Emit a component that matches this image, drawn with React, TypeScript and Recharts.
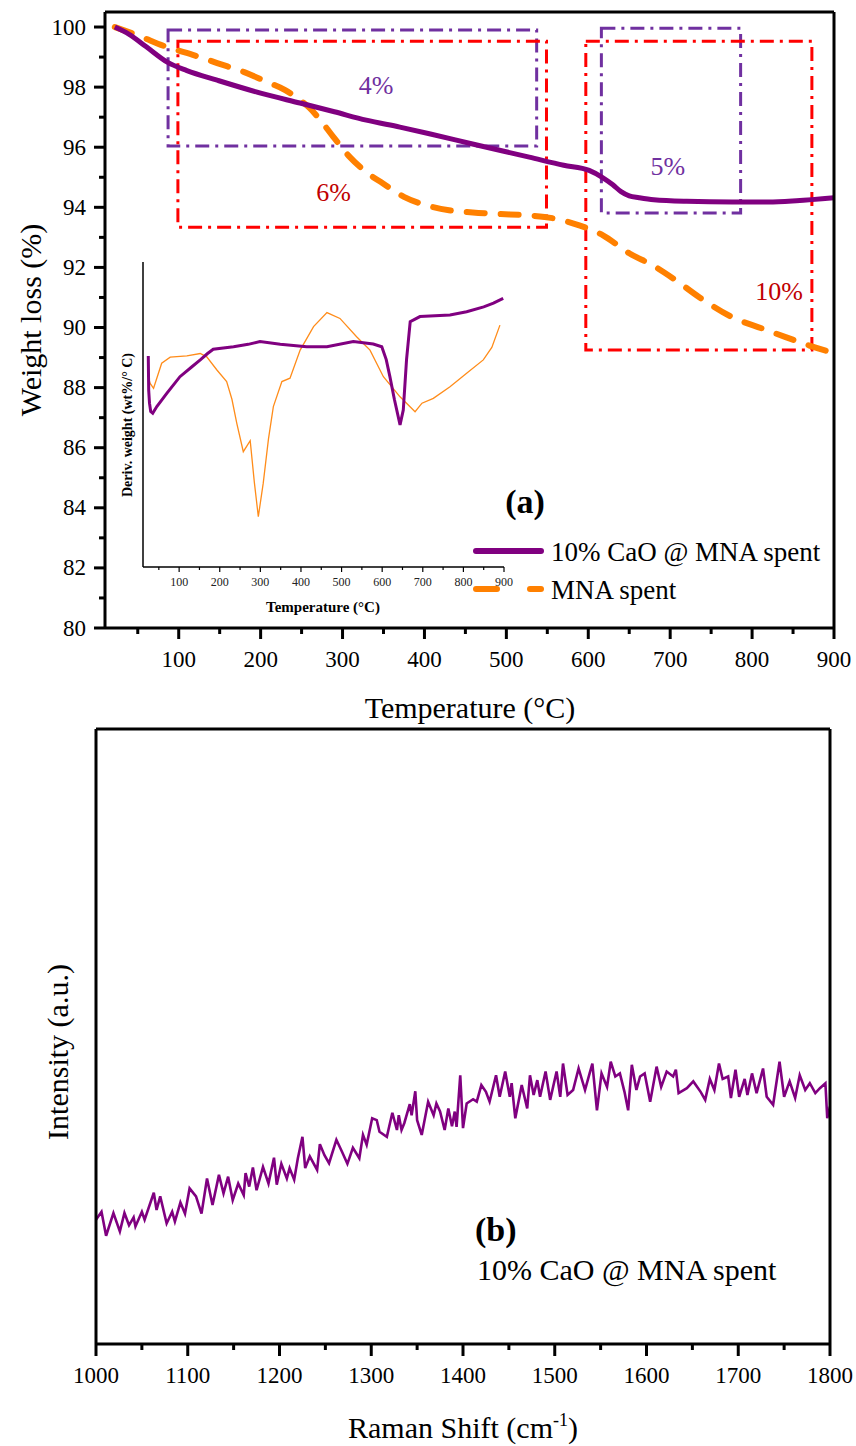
import React from "react";
import { LineChart, Line, XAxis, YAxis, ReferenceArea, ReferenceDot } from "recharts";

const FONT = "'Liberation Serif', 'Times New Roman', serif";
const PURPLE = "#800080";
const ORANGE = "#FF8000";
const BOX_PURPLE = "#7030A0";
const BOX_RED = "#FF0000";
const LABEL_RED = "#C00000";

// (a) TGA weight loss
const tgaTempCaO = [22, 40, 60, 86, 110, 147, 200, 248, 290, 329, 370, 406, 460, 528, 570, 601, 617, 630, 640, 650, 662, 680, 720, 776, 820, 854, 900];
const tgaWeightCaO = [100, 99.75, 99.35, 98.83, 98.55, 98.23, 97.8, 97.47, 97.18, 96.9, 96.67, 96.45, 96.1, 95.67, 95.4, 95.23, 95.0, 94.75, 94.52, 94.38, 94.32, 94.25, 94.2, 94.18, 94.18, 94.22, 94.32];
const tgaTempMna = [22, 50, 86, 120, 147, 180, 208, 230, 248, 260, 270, 290, 309, 330, 349, 375, 402, 430, 459, 490, 528, 560, 589, 618, 650, 680, 707, 736, 776, 813, 841, 870, 900];
const tgaWeightMna = [100, 99.72, 99.33, 99.05, 98.8, 98.5, 98.17, 97.9, 97.57, 97.3, 97.0, 96.3, 95.67, 95.15, 94.8, 94.35, 94.07, 93.9, 93.83, 93.78, 93.73, 93.62, 93.4, 93.07, 92.47, 92.05, 91.57, 91.0, 90.34, 89.96, 89.68, 89.4, 89.15];
const tgaXTicks = [50, 100, 150, 200, 250, 300, 350, 400, 450, 500, 550, 600, 650, 700, 750, 800, 850, 900];
const tgaYTicks = [80, 81, 82, 83, 84, 85, 86, 87, 88, 89, 90, 91, 92, 93, 94, 95, 96, 97, 98, 99, 100];

// dash-dot boxes and their loss labels
const lossBoxes = [
  { x1: 87, x2: 537, y1: 96.04, y2: 99.9, color: BOX_PURPLE },
  { x1: 99, x2: 549, y1: 93.34, y2: 99.53, color: BOX_RED },
  { x1: 616, x2: 786, y1: 93.81, y2: 99.96, color: BOX_PURPLE },
  { x1: 597, x2: 873, y1: 89.25, y2: 99.53, color: BOX_RED },
];
const lossLabels = [
  { t: 341, w: 98.07, text: "4%", color: BOX_PURPLE },
  { t: 289, w: 94.48, text: "6%", color: LABEL_RED },
  { t: 697, w: 95.37, text: "5%", color: BOX_PURPLE },
  { t: 833, w: 91.2, text: "10%", color: LABEL_RED },
];

// inset DTG (arbitrary units)
const dtgTempCaO = [24, 25, 27, 30, 35, 45, 70, 102, 130, 152, 170, 184, 234, 270, 299, 349, 414, 464, 529, 578, 599, 610, 619, 630, 644, 652, 660, 669, 693, 767, 808, 850, 874, 898];
const dtgValCaO = [69.2, 58, 53.7, 51, 50.4, 52.6, 57.0, 62.4, 65.5, 67.9, 70, 71.4, 72.2, 73, 73.9, 73.0, 72.2, 72.2, 73.9, 73.1, 72.2, 68, 62.4, 55, 46.6, 51.5, 68, 80.4, 82.1, 82.6, 83.7, 85.3, 86.5, 88.1];
const dtgTempMna = [24, 28.6, 37, 57, 78, 119, 152, 168, 193, 217, 230, 242, 258, 275, 285, 295, 307, 320, 332, 353, 373, 398, 431, 464, 496, 537, 570, 603, 644, 681, 698, 726, 767, 808, 849, 870, 890];
const dtgValMna = [62.4, 60.2, 58.6, 66.8, 68.8, 69.2, 70.0, 68.9, 64.6, 60.8, 55, 47.1, 37.8, 41.4, 28, 16.5, 27.4, 42, 52.6, 60.8, 61.9, 71.1, 78.8, 83.4, 81.5, 75.5, 71.1, 62.4, 55.8, 50.9, 53.7, 55.3, 59.1, 63.5, 67.9, 72, 79.3];
const dtgXTicks = tgaXTicks;

// (b) Raman
const ramanShift = [
  1000, 1006, 1011, 1019, 1026, 1031, 1036, 1041, 1043, 1050, 1053, 1063, 1066, 1070, 1077, 1083, 1086, 1092, 1097, 1102,
  1109, 1115, 1121, 1127, 1134, 1139, 1144, 1149, 1155, 1161, 1163, 1167, 1171, 1175, 1182, 1188, 1194, 1197, 1202, 1208,
  1211, 1216, 1220, 1225, 1228, 1233, 1241, 1244, 1249, 1254, 1262, 1268, 1274, 1280, 1287, 1291, 1295, 1301, 1306, 1309,
  1317, 1323, 1328, 1330, 1333, 1336, 1342, 1344, 1348, 1350, 1355, 1362, 1368, 1371, 1375, 1380, 1384, 1388, 1391, 1393,
  1397, 1400, 1404, 1411, 1415, 1420, 1425, 1429, 1436, 1440, 1446, 1451, 1453, 1457, 1464, 1470, 1473, 1477, 1481, 1484,
  1490, 1495, 1502, 1506, 1509, 1514, 1520, 1526, 1533, 1538, 1541, 1546, 1551, 1557, 1561, 1566, 1571, 1576, 1580, 1584,
  1589, 1593, 1598, 1604, 1611, 1616, 1622, 1629, 1632, 1635, 1644, 1651, 1659, 1664, 1669, 1674, 1679, 1683, 1689, 1692,
  1697, 1701, 1707, 1710, 1715, 1720, 1727, 1731, 1738, 1745, 1750, 1756, 1762, 1767, 1773, 1778, 1784, 1789, 1795, 1797, 1800,
];
const ramanIntensity = [
  20.2, 21.5, 17.6, 21.3, 18.3, 21.3, 19.3, 20.6, 19.1, 21.5, 20.2, 24.6, 21.8, 24.0, 19.6, 21.5, 19.9, 23.0, 21.2, 25.3,
  24.0, 21.2, 26.9, 22.6, 27.5, 24.5, 27.2, 23.4, 26.1, 24.2, 27.8, 25.6, 28.7, 25.0, 28.8, 26.1, 30.3, 25.9, 29.3, 26.9,
  28.6, 26.7, 30.2, 33.7, 28.6, 30.5, 28.3, 32.5, 30.7, 29.4, 33.2, 31.3, 29.3, 31.9, 30.2, 34.0, 32.4, 36.7, 36.4, 34.5,
  33.7, 37.6, 34.8, 37.2, 34.8, 35.9, 39.0, 37.2, 41.1, 36.4, 34.0, 39.4, 37.2, 39.1, 37.8, 34.8, 38.3, 35.4, 37.8, 35.3,
  43.7, 35.1, 39.1, 39.8, 39.4, 42.1, 41.0, 39.4, 43.7, 40.2, 44.3, 40.2, 42.4, 36.7, 42.1, 38.3, 43.7, 40.5, 42.9, 40.2,
  44.3, 39.7, 44.3, 40.2, 45.6, 40.5, 41.3, 44.8, 41.3, 44.0, 45.6, 38.0, 44.0, 41.8, 45.9, 43.5, 44.0, 41.0, 38.0, 45.4,
  41.3, 43.5, 44.0, 39.4, 45.1, 41.8, 44.3, 43.5, 44.6, 40.8, 41.6, 42.7, 41.0, 39.7, 43.1, 41.3, 45.6, 43.1, 43.5, 40.0,
  44.6, 40.2, 43.1, 40.5, 44.0, 40.8, 44.8, 40.2, 38.9, 45.9, 40.2, 42.7, 40.0, 43.7, 41.3, 42.4, 40.8, 41.6, 42.4, 36.7, 38.6,
];
const ramanTicks = [1000, 1050, 1100, 1150, 1200, 1250, 1300, 1350, 1400, 1450, 1500, 1550, 1600, 1650, 1700, 1750, 1800];

const zip = (xs: number[], ys: number[]) => xs.map((x, i) => ({ x, y: ys[i] }));

const caoTga = zip(tgaTempCaO, tgaWeightCaO);
const mnaTga = zip(tgaTempMna, tgaWeightMna);
const caoDtg = zip(dtgTempCaO, dtgValCaO);
const mnaDtg = zip(dtgTempMna, dtgValMna);
const raman = zip(ramanShift, ramanIntensity);

const axisStyle = { stroke: "#000", strokeWidth: 3 };

// ticks drawn by hand so that minor ticks are shorter and unlabelled
function bottomTick(step: number, majorLen: number, minorLen: number, sw: number, size: number, offset: number, color: string) {
  return (props: any) => {
    const { x, y, payload } = props;
    const v = payload.value;
    const major = v % step === 0;
    return (
      <g>
        <line x1={x} x2={x} y1={y} y2={y + (major ? majorLen : minorLen)} stroke="#000" strokeWidth={sw} />
        {major && (
          <text x={x} y={y + offset} textAnchor="middle" fontFamily={FONT} fontSize={size} fill={color}>
            {v}
          </text>
        )}
      </g>
    );
  };
}

function leftTick(step: number, majorLen: number, minorLen: number, sw: number, size: number, gap: number) {
  return (props: any) => {
    const { x, y, payload } = props;
    const v = payload.value;
    const major = v % step === 0;
    return (
      <g>
        <line x1={x - (major ? majorLen : minorLen)} x2={x} y1={y} y2={y} stroke="#000" strokeWidth={sw} />
        {major && (
          <text x={x - majorLen - gap} y={y} textAnchor="end" dominantBaseline="central"
            fontFamily={FONT} fontSize={size} fill="#000">
            {v}
          </text>
        )}
      </g>
    );
  };
}

function lossLabel(text: string, color: string) {
  return (props: any) => {
    const vb = props.viewBox || {};
    return (
      <text x={vb.x} y={vb.y} textAnchor="middle" dominantBaseline="central" fontFamily={FONT} fontSize={26} fill={color}>
        {text}
      </text>
    );
  };
}

function TgaChart() {
  return (
    <LineChart width={856} height={690} margin={{ top: 11, right: 21, bottom: 22, left: 45 }}>
      <XAxis type="number" dataKey="x" domain={[10, 900]} ticks={tgaXTicks} interval={0} allowDataOverflow
        height={40} tickSize={0} tickMargin={0} tickLine={false} axisLine={axisStyle}
        tick={bottomTick(100, 11, 6, 3, 23, 39, "#000")} />
      <XAxis xAxisId="top" orientation="top" type="number" domain={[10, 900]} height={1}
        tick={false} tickLine={false} axisLine={axisStyle} />
      <YAxis type="number" domain={[80, 100.5]} ticks={tgaYTicks} interval={0} allowDataOverflow
        width={60} tickSize={0} tickMargin={0} tickLine={false} axisLine={axisStyle}
        tick={leftTick(2, 11, 6, 3, 23, 8)} />
      <YAxis yAxisId="right" orientation="right" type="number" domain={[80, 100.5]} width={1}
        tick={false} tickLine={false} axisLine={axisStyle} />
      {lossBoxes.map((b, i) => (
        <ReferenceArea key={i} x1={b.x1} x2={b.x2} y1={b.y1} y2={b.y2} fill="none" fillOpacity={0}
          stroke={b.color} strokeWidth={3} strokeDasharray="14 6 3 6" ifOverflow="visible" />
      ))}
      <Line data={mnaTga} dataKey="y" type="monotone" stroke={ORANGE} strokeWidth={6} strokeDasharray="18 16"
        strokeLinecap="round" dot={false} isAnimationActive={false} />
      <Line data={caoTga} dataKey="y" type="monotone" stroke={PURPLE} strokeWidth={5} dot={false} isAnimationActive={false} />
      {lossLabels.map((l, i) => (
        <ReferenceDot key={i} x={l.t} y={l.w} r={0} fill="none" stroke="none" ifOverflow="visible"
          label={{ content: lossLabel(l.text, l.color) }} />
      ))}
    </LineChart>
  );
}

function DtgInset() {
  return (
    <LineChart width={420} height={350} margin={{ top: 12, right: 16, bottom: 32, left: 42 }}>
      <XAxis type="number" dataKey="x" domain={[11, 900]} ticks={dtgXTicks} interval={0} allowDataOverflow
        height={1} tickSize={0} tickMargin={0} tickLine={false} axisLine={{ stroke: "#000", strokeWidth: 1.5 }}
        tick={bottomTick(100, 5, 3, 1.2, 12, 19, "#222")} />
      <YAxis type="number" domain={[0, 100]} width={1} tick={false} tickLine={false}
        axisLine={{ stroke: "#000", strokeWidth: 1.5 }} />
      <Line data={mnaDtg} dataKey="y" type="linear" stroke="#FF8C1A" strokeWidth={1.3} dot={false} isAnimationActive={false} />
      <Line data={caoDtg} dataKey="y" type="linear" stroke={PURPLE} strokeWidth={3} dot={false} isAnimationActive={false} />
    </LineChart>
  );
}

function RamanChart() {
  return (
    <LineChart width={856} height={720} margin={{ top: 28, right: 25, bottom: 75, left: 95 }}>
      <XAxis type="number" dataKey="x" domain={[1000, 1800]} ticks={ramanTicks} interval={0} allowDataOverflow
        height={1} tickSize={0} tickMargin={0} tickLine={false} axisLine={axisStyle}
        tick={bottomTick(100, 12, 6, 3, 23, 39, "#000")} />
      <XAxis xAxisId="top" orientation="top" type="number" domain={[1000, 1800]} height={1}
        tick={false} tickLine={false} axisLine={axisStyle} />
      <YAxis type="number" domain={[0, 100]} width={1} tick={false} tickLine={false} axisLine={axisStyle} />
      <YAxis yAxisId="right" orientation="right" type="number" domain={[0, 100]} width={1}
        tick={false} tickLine={false} axisLine={axisStyle} />
      <Line data={raman} dataKey="y" type="linear" stroke={PURPLE} strokeWidth={2.6} dot={false} isAnimationActive={false} />
    </LineChart>
  );
}

export default function App() {
  const abs = (left: number, top: number): React.CSSProperties => ({ position: "absolute", left, top });
  return (
    <div style={{ position: "absolute", left: 0, top: 0, width: 856, height: 1446, background: "#fff", fontFamily: FONT }}>
      <div style={abs(0, 0)}>
        <TgaChart />
      </div>
      <div style={abs(100, 250)}>
        <DtgInset />
      </div>
      <div style={abs(0, 700)}>
        <RamanChart />
      </div>
      <svg width={856} height={1446} style={{ ...abs(0, 0), pointerEvents: "none", fontFamily: FONT }}>
        <text x={30} y={320} transform="rotate(-90 30 320)" textAnchor="middle" dominantBaseline="central" fontSize={30}>
          Weight loss (%)
        </text>
        <text x={470} y={718} textAnchor="middle" fontSize={30}>Temperature (°C)</text>
        <text x={525} y={513} textAnchor="middle" fontSize={34} fontWeight="bold">(a)</text>

        <text x={127} y={425} transform="rotate(-90 127 425)" textAnchor="middle" dominantBaseline="central" fontSize={14} fontWeight="bold">
          Deriv. weight (wt%/° C)
        </text>
        <text x={323} y={612} textAnchor="middle" fontSize={15} fontWeight="bold">Temperature (°C)</text>

        <line x1={476} x2={541} y1={551} y2={551} stroke={PURPLE} strokeWidth={6} strokeLinecap="round" />
        <text x={551} y={561} fontSize={27}>10% CaO @ MNA spent</text>
        <line x1={476} x2={497} y1={589} y2={589} stroke={ORANGE} strokeWidth={6} strokeLinecap="round" />
        <line x1={530} x2={541} y1={589} y2={589} stroke={ORANGE} strokeWidth={6} strokeLinecap="round" />
        <text x={551} y={599} fontSize={27}>MNA spent</text>

        <text x={57} y={1052} transform="rotate(-90 57 1052)" textAnchor="middle" dominantBaseline="central" fontSize={30}>
          Intensity (a.u.)
        </text>
        <text x={463} y={1438} textAnchor="middle" fontSize={30}>
          Raman Shift (cm<tspan fontSize={18} dy={-12}>-1</tspan><tspan dy={12}>)</tspan>
        </text>
        <text x={475} y={1241} fontSize={34} fontWeight="bold">(b)</text>
        <text x={477} y={1280} fontSize={30}>10% CaO @ MNA spent</text>
      </svg>
    </div>
  );
}
